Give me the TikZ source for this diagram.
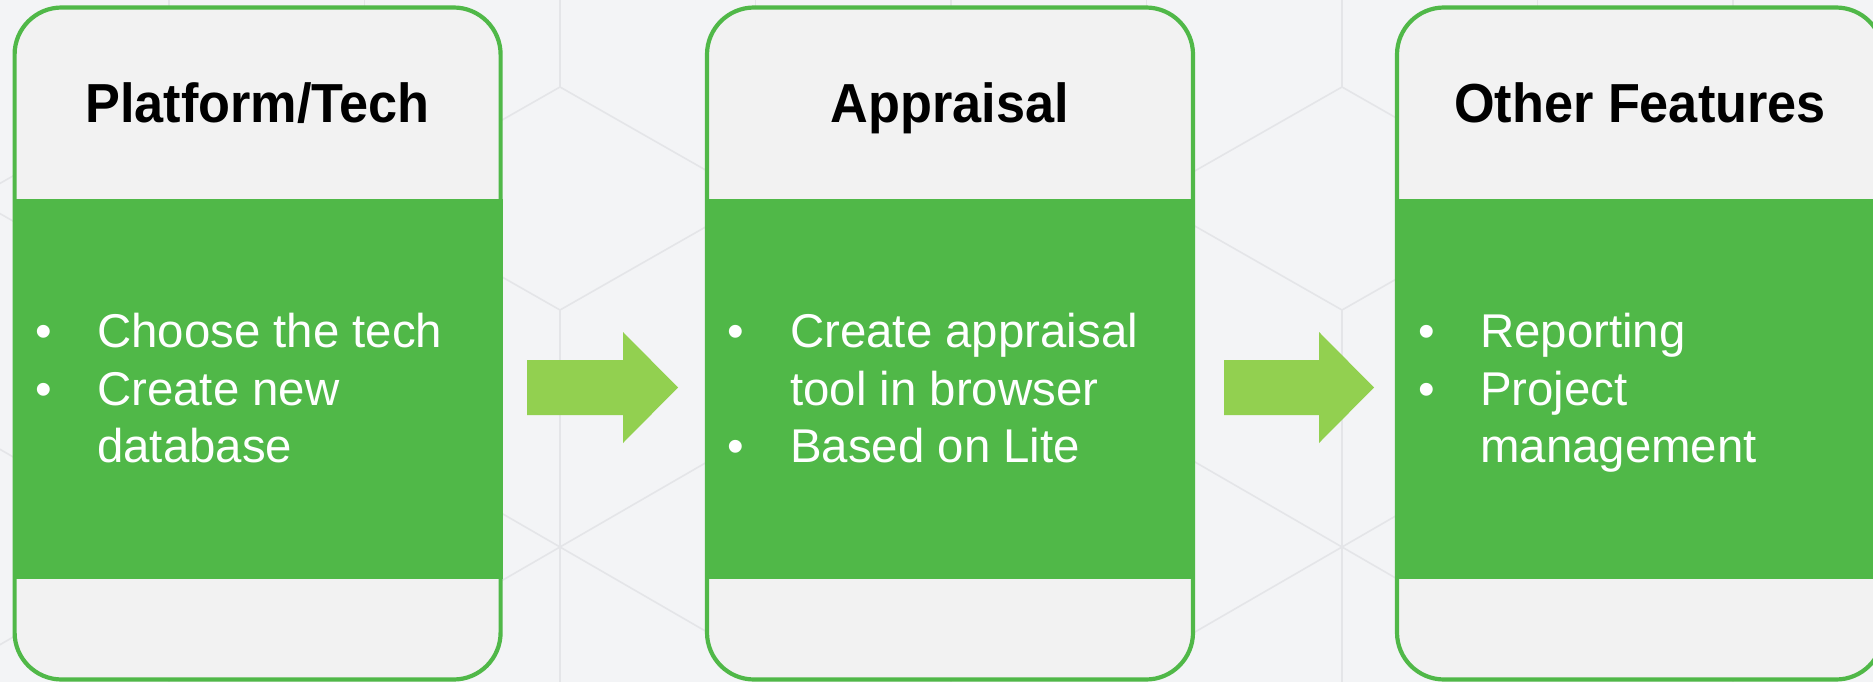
\documentclass[tikz,border=0pt]{standalone}
\usepackage{fontspec}
\setmainfont{Liberation Sans}
\newfontfamily\titlefont{Liberation Sans}[FakeStretch=0.95]
\definecolor{bgc}{HTML}{F3F4F6}
\definecolor{gridc}{HTML}{E4E5E8}
\definecolor{boxgreen}{HTML}{50B848}
\definecolor{arrowgreen}{HTML}{92D050}
\definecolor{boxfill}{HTML}{F2F2F2}
\tikzset{
  gridline/.style={draw=gridc, line width=1.6pt},
  card/.style={draw=boxgreen, line width=4.2pt, fill=boxfill, rounded corners=47pt,
    minimum width=486pt, minimum height=672pt, inner sep=0pt, rectangle},
  band/.style={fill=boxgreen},
  blockarrow/.style={fill=arrowgreen},
  title/.style={font=\titlefont\bfseries\fontsize{55}{60}\selectfont, text=black, anchor=base, inner sep=0pt},
  bodytext/.style={font=\fontsize{47.4}{57.5}\selectfont, text=white, anchor=base west, inner sep=0pt},
  bulletmark/.style={font=\fontsize{47.4}{57.5}\selectfont, text=white, anchor=base, inner sep=0pt}
}
\begin{document}
\begin{tikzpicture}[x=1pt,y=-1pt]
\useasboundingbox (0,0) rectangle (1873,682);
\fill[bgc] (0,0) rectangle (1873,682);
\clip (0,0) rectangle (1873,682);
% background network
\foreach \A in {169,560,951,1342,1733} {
  \draw[gridline] (\A,-5) -- (\A,87) -- (\A+195.5,198.5) -- (\A,310) -- (\A,690);
  \draw[gridline] (\A,87) -- (\A-195.5,198.5) -- (\A,310);
  \draw[gridline] (\A-195.5,434) -- (\A+195.5,660);
  \draw[gridline] (\A-195.5,660) -- (\A+195.5,434);
}
\foreach \A in {364.5,755.5,1146.5,1537.5} {
  \draw[gridline] (\A,-5) -- (\A,60);
}
% cards
\node[card] (c1) at (257.6,343.5) {};
\node[card] (c2) at (950,343.5) {};
\node[card] (c3) at (1640,343.5) {};
\foreach \c in {c1,c2,c3} {
  \fill[band] (\c.west |- 0,199) rectangle (\c.east |- 0,579);
}
% arrows
\fill[blockarrow] (527,360) -- (623,360) -- (623,332) -- (678,387.5) -- (623,443) -- (623,415) -- (527,415) -- cycle;
\fill[blockarrow] (1224,360) -- (1319,360) -- (1319,332) -- (1374,387.5) -- (1319,443) -- (1319,415) -- (1224,415) -- cycle;
% titles
\node[title] (h1) at (257.6,123) {Platform/Tech};
\node[title] (h2) at (950,123) {Appraisal};
\node[title] (h3) at (1640,123) {Other Features};
% box 1 body
\node[bulletmark] (p1) at (44,347) {•};
\node[bulletmark] (p2) at (44,405) {•};
\node[bodytext] (t1a) at (97,347) {Choose the tech};
\node[bodytext] (t1b) at (97,405) {Create new};
\node[bodytext] (t1c) at (97,462) {database};
% box 2 body
\node[bulletmark] (q1) at (736,347) {•};
\node[bulletmark] (q2) at (736,462) {•};
\node[bodytext] (t2a) at (790,347) {Create appraisal};
\node[bodytext] (t2b) at (790,405) {tool in browser};
\node[bodytext] (t2c) at (790,462) {Based on Lite};
% box 3 body
\node[bulletmark] (r1) at (1427,347) {•};
\node[bulletmark] (r2) at (1427,405) {•};
\node[bodytext] (t3a) at (1480,347) {Reporting};
\node[bodytext] (t3b) at (1480,405) {Project};
\node[bodytext] (t3c) at (1480,462) {management};
\end{tikzpicture}
\end{document}
